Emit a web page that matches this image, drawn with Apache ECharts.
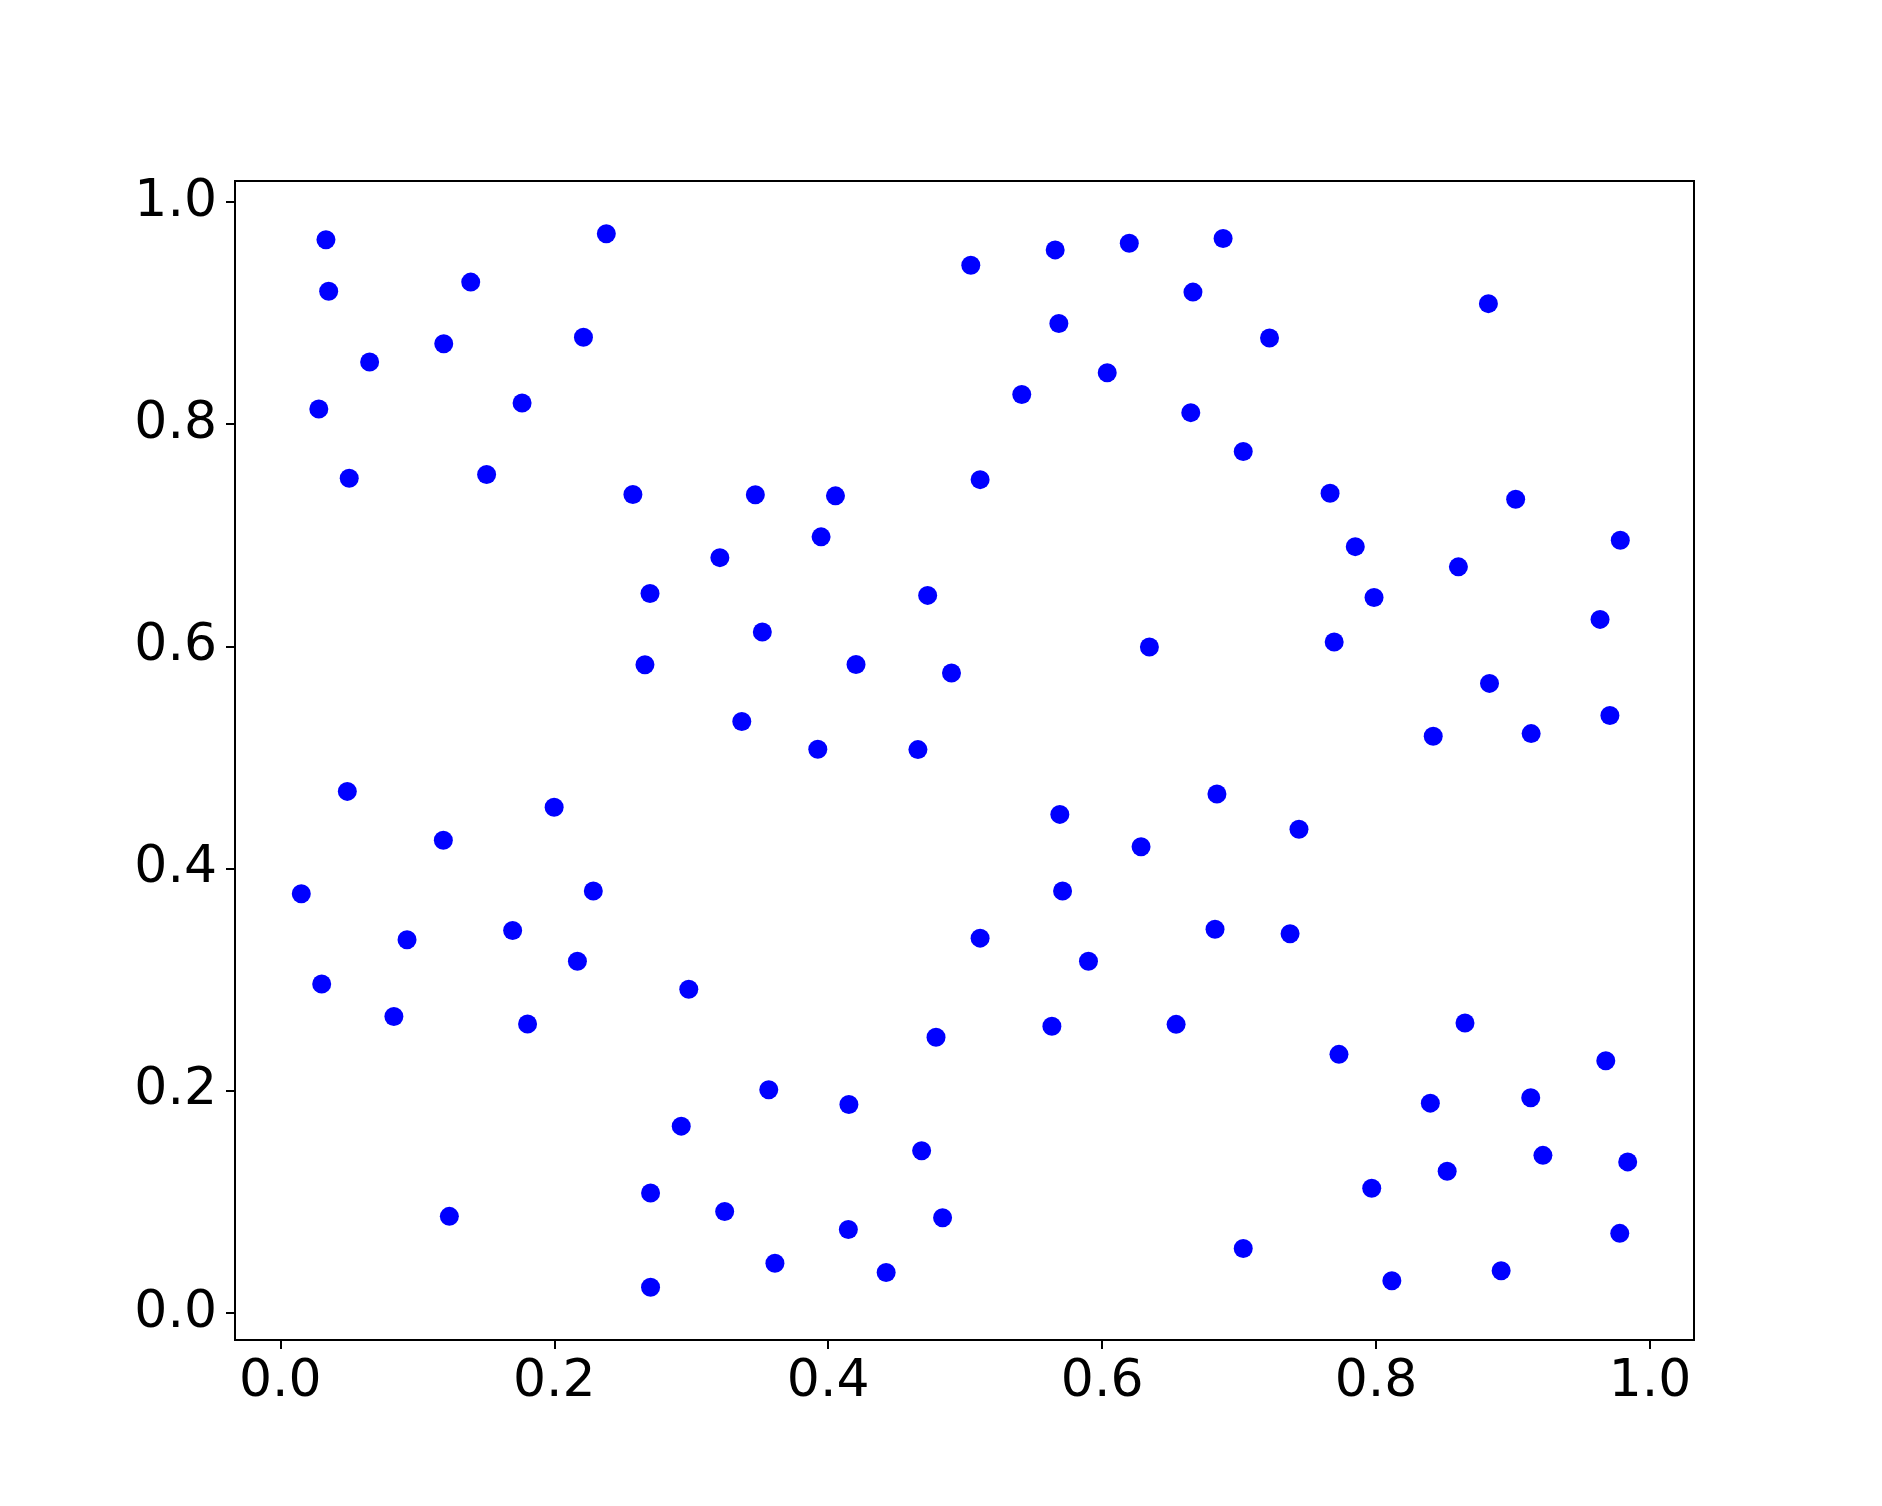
<!DOCTYPE html>
<html>
<head>
<meta charset="utf-8">
<title>scatter</title>
<script src="https://cdn.jsdelivr.net/npm/echarts@6/dist/echarts.min.js"></script>
<style>
  html, body { margin: 0; padding: 0; background: #fff; }
  #chart { width: 1882px; height: 1506px; }
</style>
</head>
<body>
<div id="chart"></div>
<script>
// values
const xValues = [
  0.0333, 0.0353, 0.0652, 0.0281, 0.0503, 0.1193, 0.1390, 0.1765, 0.1506, 0.2213,
  0.2380, 0.2574, 0.2699, 0.2662, 0.3209, 0.3468, 0.3519, 0.3369, 0.3948, 0.4053,
  0.4203, 0.3924, 0.4726, 0.4900, 0.4655, 0.5041, 0.5109, 0.5413, 0.5657, 0.5684,
  0.6037, 0.6198, 0.6663, 0.6883, 0.6647, 0.7222, 0.7030, 0.6345, 0.7664, 0.7848,
  0.7694, 0.7985, 0.8820, 0.9019, 0.8601, 0.9783, 0.9635, 0.9707, 0.8828, 0.8417,
  0.9132, 0.0489, 0.1190, 0.1999, 0.0153, 0.0925, 0.1696, 0.2285, 0.2169, 0.0302,
  0.0829, 0.1805, 0.2982, 0.1234, 0.2927, 0.3566, 0.4151, 0.2703, 0.3244, 0.3611,
  0.4147, 0.4423, 0.2703, 0.4682, 0.4835, 0.4787, 0.5109, 0.5691, 0.5711, 0.6284,
  0.5900, 0.5633, 0.6838, 0.6824, 0.6540, 0.7437, 0.7372, 0.7729, 0.7030, 0.7968,
  0.8115, 0.8396, 0.8519, 0.8649, 0.8913, 0.9129, 0.9218, 0.9677, 0.9837, 0.9779
];
const yValues = [
  0.9661, 0.9197, 0.8560, 0.8137, 0.7514, 0.8724, 0.9279, 0.8190, 0.7547, 0.8783,
  0.9715, 0.7367, 0.6476, 0.5834, 0.6799, 0.7365, 0.6130, 0.5324, 0.6986, 0.7355,
  0.5837, 0.5075, 0.6459, 0.5761, 0.5071, 0.9430, 0.7501, 0.8267, 0.9569, 0.8906,
  0.8463, 0.9629, 0.9189, 0.9671, 0.8104, 0.8776, 0.7755, 0.5994, 0.7378, 0.6898,
  0.6040, 0.6440, 0.9085, 0.7325, 0.6716, 0.6956, 0.6243, 0.5378, 0.5667, 0.5191,
  0.5215, 0.4695, 0.4255, 0.4552, 0.3773, 0.3360, 0.3443, 0.3799, 0.3166, 0.2961,
  0.2668, 0.2601, 0.2914, 0.0870, 0.1682, 0.2009, 0.1876, 0.1080, 0.0914, 0.0448,
  0.0751, 0.0364, 0.0231, 0.1460, 0.0857, 0.2482, 0.3374, 0.4488, 0.3799, 0.4197,
  0.3166, 0.2581, 0.4672, 0.3454, 0.2598, 0.4355, 0.3414, 0.2328, 0.0581, 0.1123,
  0.0290, 0.1889, 0.1276, 0.2611, 0.0381, 0.1938, 0.1419, 0.2271, 0.1360, 0.0717
];
const tickValues = [0, 0.2, 0.4, 0.6, 0.8, 1.0];

const points = xValues.map((x, i) => [x, yValues[i]]);

const axisCommon = {
  type: "value",
  axisLine: { show: true, onZero: false, lineStyle: { color: "#000", width: 2 } },
  axisTick: {
    show: true,
    inside: false,
    length: 9,
    customValues: tickValues,
    lineStyle: { color: "#000", width: 2 },
  },
  axisLabel: {
    customValues: tickValues,
    color: "#000",
    fontFamily: "DejaVu Sans",
    fontSize: 52,
    formatter: (v) => v.toFixed(1),
  },
  splitLine: { show: false },
};

const chart = echarts.init(document.getElementById("chart"), null, { renderer: "canvas" });

chart.setOption({
  animation: false,
  backgroundColor: "#fff",
  grid: {
    left: 235,
    right: 188,
    top: 181,
    bottom: 166,
    show: true,
    borderColor: "#000",
    borderWidth: 2,
    backgroundColor: "transparent",
  },
  xAxis: Object.assign({}, axisCommon, {
    min: -0.0331,
    max: 1.0321,
    axisLabel: Object.assign({}, axisCommon.axisLabel, { margin: 16 }),
  }),
  yAxis: Object.assign({}, axisCommon, {
    min: -0.0243,
    max: 1.0189,
    axisLabel: Object.assign({}, axisCommon.axisLabel, { margin: 18 }),
  }),
  series: [
    {
      type: "scatter",
      data: points,
      symbol: "circle",
      symbolSize: 19,
      itemStyle: { color: "#0000ff", opacity: 1 },
    },
  ],
});
</script>
</body>
</html>
